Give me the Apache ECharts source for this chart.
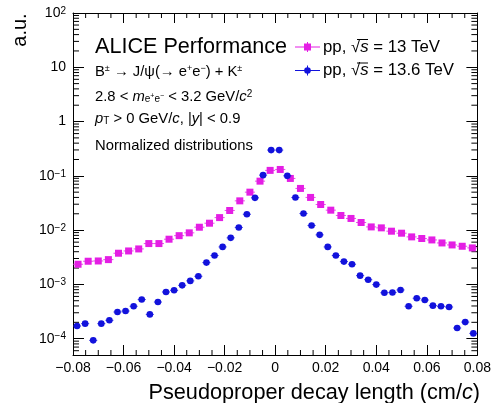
<!DOCTYPE html>
<html><head><meta charset="utf-8">
<script src="https://cdn.jsdelivr.net/npm/echarts@6/dist/echarts.min.js"></script>
<style>html,body{margin:0;padding:0;background:#fff}#c{width:494px;height:403px}</style>
</head><body><div id="c"></div>
<script>
// ---- data ----
const xRange = [-0.08, 0.08];
const yRange = [5e-5, 100];
const xTickLabels = ['\u22120.08','\u22120.06','\u22120.04','\u22120.02','0','0.02','0.04','0.06','0.08'];
const pp13BinWidth = 0.004;   // 40 bins
const pp136BinWidth = 0.0032; // 50 bins
const pp13Values = [2.35e-3,2.67e-3,2.70e-3,2.86e-3,3.75e-3,4.13e-3,4.5e-3,5.65e-3,5.65e-3,6.8e-3,
  7.9e-3,8.9e-3,1.13e-2,1.34e-2,1.7e-2,2.3e-2,3.46e-2,5.0e-2,7.98e-2,0.126,
  0.131,0.0895,0.0586,0.040,0.0296,0.0233,0.0186,0.0164,0.0138,0.01145,
  0.0110,0.00955,0.00877,0.0075,0.0070,0.00659,0.0058,0.00533,0.00504,0.0047];
const pp136Values = [1.71e-4,1.89e-4,9.3e-5,1.89e-4,2.18e-4,3.1e-4,3.23e-4,3.95e-4,5.25e-4,2.8e-4,
  4.73e-4,7.24e-4,7.78e-4,9.6e-4,1.16e-3,1.41e-3,2.52e-3,3.4e-3,4.9e-3,7.2e-3,
  1.12e-2,1.96e-2,3.93e-2,0.103,0.298,0.298,0.100,0.0399,0.0202,0.01216,
  8.17e-3,4.9e-3,3.4e-3,2.63e-3,2.35e-3,1.45e-3,1.22e-3,9.9e-4,7.0e-4,7.1e-4,
  7.9e-4,3.95e-4,5.55e-4,5.15e-4,4.06e-4,3.95e-4,3.83e-4,1.57e-4,2.02e-4,1.25e-4];
const seriesNames = ['pp, \u221As = 13 TeV', 'pp, \u221As = 13.6 TeV'];
const yMinorTickValues = [];
for (let e = -5; e <= 1; e++) for (let k = 2; k <= 9; k++) { const v = k * Math.pow(10, e); if (v > yRange[0] && v < yRange[1]) yMinorTickValues.push(v); }
const xMinorTickValues = [];
for (let k = 1; k < 32; k++) if (k % 4 !== 0) xMinorTickValues.push(+(xRange[0] + 0.005 * k).toFixed(4));

// ---- style ----
const FONT = 'Liberation Sans';
const MAG = '#e41ee4', BLU = '#1212dc';

function binCenters(w, n) { const c = []; for (let i = 0; i < n; i++) c.push(+(xRange[0] + w * (i + 0.5)).toFixed(6)); return c; }

function pointSeries(name, values, w, color, shape) {
  const centers = binCenters(w, values.length);
  return {
    type: 'custom', name, xAxisIndex: 0, yAxisIndex: 0,
    data: centers.map((c, i) => [c, values[i]]),
    encode: { x: 0, y: 1 },
    renderItem(params, api) {
      const x = api.value(0), y = api.value(1);
      const p = api.coord([x, y]);
      const l = api.coord([x - w / 2, y]), r = api.coord([x + w / 2, y]);
      const ch = [{ type: 'line', shape: { x1: l[0], y1: p[1], x2: r[0], y2: p[1] }, style: { stroke: color, lineWidth: 1, opacity: 0.8 } }];
      if (shape === 'rect') ch.push({ type: 'rect', shape: { x: p[0] - 3.5, y: p[1] - 3.5, width: 7, height: 7 }, style: { fill: color } });
      else ch.push({ type: 'circle', shape: { cx: p[0], cy: p[1], r: 3.3 }, style: { fill: color } });
      return { type: 'group', children: ch };
    }
  };
}

const yMinorTickSeries = {
  type: 'custom', silent: true, xAxisIndex: 0, yAxisIndex: 0,
  data: yMinorTickValues.map(v => [xRange[0], v]),
  encode: { x: 0, y: 1 },
  renderItem(params, api) {
    const v = api.value(1);
    const a = api.coord([xRange[0], v]), b = api.coord([xRange[1], v]);
    return { type: 'group', children: [
      { type: 'line', shape: { x1: a[0], y1: a[1], x2: a[0] + 6, y2: a[1] }, style: { stroke: '#000', lineWidth: 1 } },
      { type: 'line', shape: { x1: b[0], y1: b[1], x2: b[0] - 6, y2: b[1] }, style: { stroke: '#000', lineWidth: 1 } }
    ] };
  }
};
const xMinorTickSeries = {
  type: 'custom', silent: true, xAxisIndex: 0, yAxisIndex: 0,
  data: xMinorTickValues.map(v => [v, yRange[0]]),
  encode: { x: 0, y: 1 },
  renderItem(params, api) {
    const v = api.value(0);
    const a = api.coord([v, yRange[0]]), b = api.coord([v, yRange[1]]);
    return { type: 'group', children: [
      { type: 'line', shape: { x1: a[0], y1: a[1], x2: a[0], y2: a[1] - 5 }, style: { stroke: '#000', lineWidth: 1 } },
      { type: 'line', shape: { x1: b[0], y1: b[1], x2: b[0], y2: b[1] + 5 }, style: { stroke: '#000', lineWidth: 1 } }
    ] };
  }
};

function yLabel(v) {
  const lg = Math.log10(v), e = Math.round(lg);
  if (Math.abs(lg - e) > 0.01) return '';
  if (e === 0) return '1';
  if (e === 1) return '10';
  return '10{sup|' + (e < 0 ? '\u2212' : '') + Math.abs(e) + '}';
}
function xLabel(v) {
  const i = Math.round((v - xRange[0]) / 0.02);
  return xTickLabels[i] !== undefined ? xTickLabels[i] : '';
}

const chart = echarts.init(document.getElementById('c'), null, { renderer: 'canvas' });
const txt = { fontFamily: FONT, color: '#000' };
const supStyle = { fontSize: 9, verticalAlign: 'top', lineHeight: 9, fontFamily: FONT, padding: [0, 0, 0, 0] };

chart.setOption({
  animation: false,
  backgroundColor: '#fff',
  grid: { left: 73, right: 14, top: 13, bottom: 48, containLabel: false },
  xAxis: [
    { type: 'value', min: xRange[0], max: xRange[1], interval: 0.02, position: 'bottom',
      axisLine: { show: true, onZero: false, lineStyle: { color: '#000', width: 1 } },
      axisTick: { show: true, inside: true, length: 10, lineStyle: { color: '#000' } },
      splitLine: { show: false },
      axisLabel: { ...txt, fontSize: 14, margin: 6, formatter: xLabel } },
    { type: 'value', min: xRange[0], max: xRange[1], interval: 0.02, position: 'top',
      axisLine: { show: true, onZero: false, lineStyle: { color: '#000', width: 1 } },
      axisTick: { show: true, inside: true, length: 10, lineStyle: { color: '#000' } },
      splitLine: { show: false }, axisLabel: { show: false } }
  ],
  yAxis: [
    { type: 'log', logBase: 10, min: yRange[0], max: yRange[1], position: 'left',
      axisLine: { show: true, onZero: false, lineStyle: { color: '#000', width: 1 } },
      axisTick: { show: true, inside: true, length: 11, lineStyle: { color: '#000' } },
      splitLine: { show: false },
      axisLabel: { ...txt, fontSize: 14, margin: 7, formatter: yLabel, showMinLabel: true,
        rich: { sup: { ...supStyle, fontSize: 10 } } } },
    { type: 'log', logBase: 10, min: yRange[0], max: yRange[1], position: 'right',
      axisLine: { show: true, onZero: false, lineStyle: { color: '#000', width: 1 } },
      axisTick: { show: true, inside: true, length: 11, lineStyle: { color: '#000' } },
      splitLine: { show: false }, axisLabel: { show: false } }
  ],
  series: [
    yMinorTickSeries,
    xMinorTickSeries,
    pointSeries(seriesNames[0], pp13Values, pp13BinWidth, MAG, 'rect'),
    pointSeries(seriesNames[1], pp136Values, pp136BinWidth, BLU, 'circle')
  ],
  graphic: [
    { type: 'text', x: 95, y: 47, style: { text: 'ALICE Performance', font: '21.6px "Liberation Sans"', fill: '#000', verticalAlign: 'middle' } },
    // legend
    { type: 'line', shape: { x1: 295, y1: 47, x2: 320, y2: 47 }, style: { stroke: MAG, lineWidth: 1 } },
    { type: 'line', shape: { x1: 307.5, y1: 42, x2: 307.5, y2: 52 }, style: { stroke: MAG, lineWidth: 1 } },
    { type: 'rect', shape: { x: 304, y: 43.5, width: 7, height: 7 }, style: { fill: MAG } },
    { type: 'text', x: 323, y: 47, style: { text: 'pp, \u221A{it|s} = 13 TeV', font: '16.8px "Liberation Sans"', fill: '#000', verticalAlign: 'middle',
      rich: { it: { fontStyle: 'italic', fontSize: 16.8, fontFamily: FONT } } } },
    { type: 'line', shape: { x1: 357, y1: 39.5, x2: 368, y2: 39.5 }, style: { stroke: '#000', lineWidth: 1 } },
    { type: 'line', shape: { x1: 295, y1: 70.5, x2: 320, y2: 70.5 }, style: { stroke: BLU, lineWidth: 1 } },
    { type: 'line', shape: { x1: 307.5, y1: 65.5, x2: 307.5, y2: 75.5 }, style: { stroke: BLU, lineWidth: 1 } },
    { type: 'circle', shape: { cx: 307.5, cy: 70.5, r: 3.3 }, style: { fill: BLU } },
    { type: 'text', x: 323, y: 70.5, style: { text: 'pp, \u221A{it|s} = 13.6 TeV', font: '16.8px "Liberation Sans"', fill: '#000', verticalAlign: 'middle',
      rich: { it: { fontStyle: 'italic', fontSize: 16.8, fontFamily: FONT } } } },
    { type: 'line', shape: { x1: 357, y1: 63, x2: 368, y2: 63 }, style: { stroke: '#000', lineWidth: 1 } },
    // info lines
    { type: 'text', x: 95, y: 72, style: { text: 'B{sup|\u00B1} \u2192 J/\u03C8(\u2192 e{sup|+}e{sup|\u2212}) + K{sup|\u00B1}', font: '14.8px "Liberation Sans"', fill: '#000', verticalAlign: 'middle',
      rich: { sup: { ...supStyle } } } },
    { type: 'text', x: 95, y: 96.5, style: { text: '2.8 < {it|m}{sub|e}{subsup|+}{sub|e}{subsup|\u2212} < 3.2 GeV/{it|c}{sup|2}', font: '14.8px "Liberation Sans"', fill: '#000', verticalAlign: 'middle',
      rich: { it: { fontStyle: 'italic', fontSize: 14.8, fontFamily: FONT }, sup: { ...supStyle, fontSize: 10 },
        sub: { fontSize: 10, fontFamily: FONT, verticalAlign: 'bottom', lineHeight: 10 },
        subsup: { fontSize: 7, fontFamily: FONT, verticalAlign: 'middle', lineHeight: 7 } } } },
    { type: 'text', x: 95, y: 118.5, style: { text: '{it|p}{sub|T} > 0 GeV/{it|c}, |{it|y}| < 0.9', font: '14.8px "Liberation Sans"', fill: '#000', verticalAlign: 'middle',
      rich: { it: { fontStyle: 'italic', fontSize: 14.8, fontFamily: FONT },
        sub: { fontSize: 10, fontFamily: FONT, verticalAlign: 'bottom', lineHeight: 10 } } } },
    { type: 'text', x: 95, y: 145.5, style: { text: 'Normalized distributions', font: '14.8px "Liberation Sans"', fill: '#000', verticalAlign: 'middle' } },
    // axis titles
    { type: 'text', x: 480, y: 393, style: { text: 'Pseudoproper decay length (cm/{it|c})', font: '21.7px "Liberation Sans"', fill: '#000', align: 'right', verticalAlign: 'middle',
      rich: { it: { fontStyle: 'italic', fontSize: 21.7, fontFamily: FONT } } } },
    { type: 'text', x: 20, y: 30, rotation: Math.PI / 2, style: { text: 'a.u.', font: '20px "Liberation Sans"', fill: '#000', align: 'center', verticalAlign: 'middle' } }
  ]
});
</script></body></html>
